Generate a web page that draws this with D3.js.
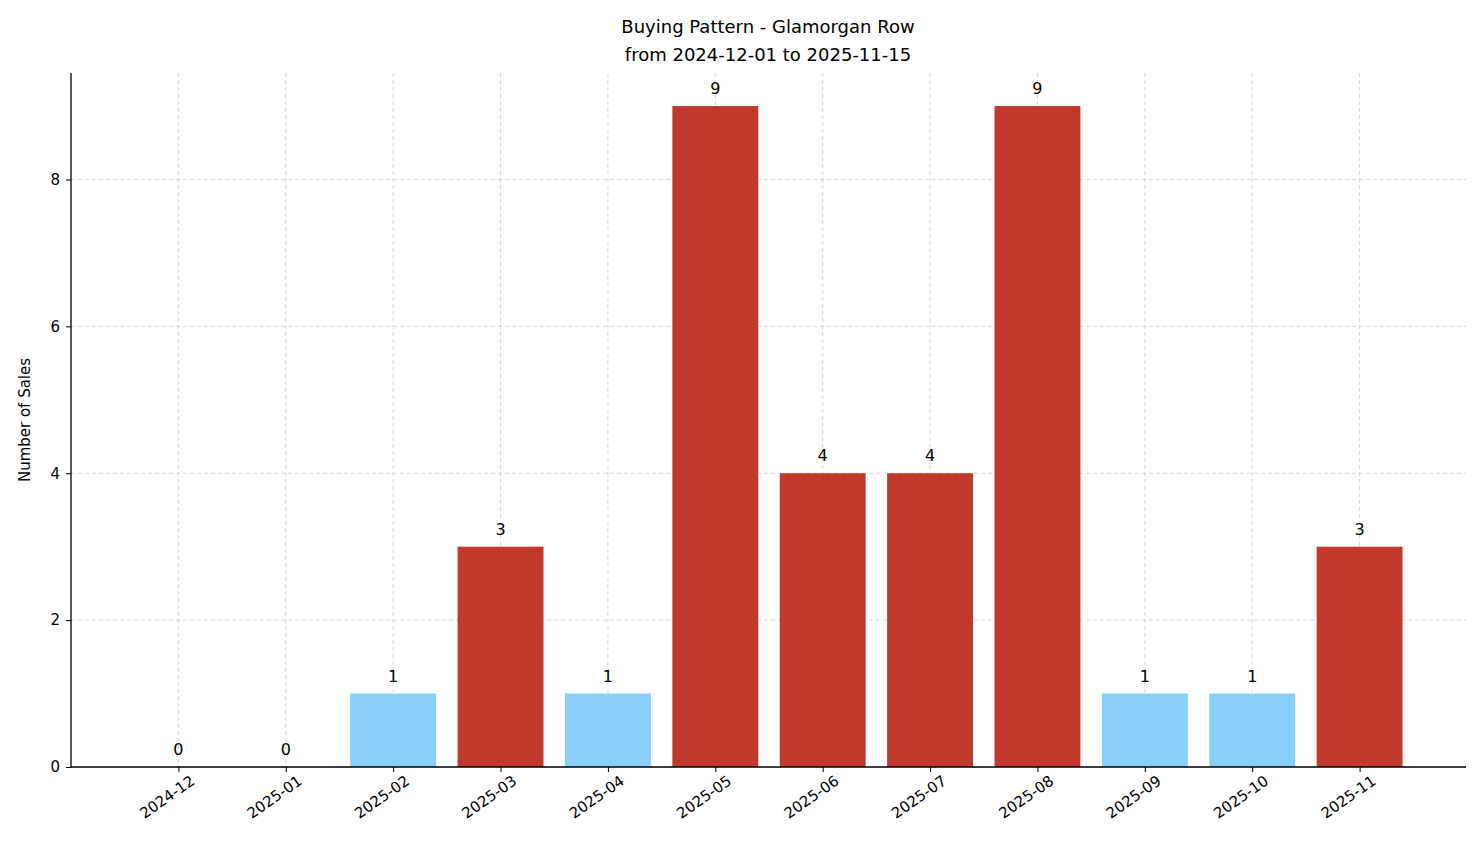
<!DOCTYPE html>
<html><head><meta charset="utf-8">
<script src="https://cdn.jsdelivr.net/npm/d3@7"></script>
<style>body{margin:0;background:#fff}text{font-family:"DejaVu Sans",sans-serif}</style>
</head><body><svg id="c" width="1481" height="863"></svg>
<script>
const categories=["2024-12","2025-01","2025-02","2025-03","2025-04","2025-05","2025-06","2025-07","2025-08","2025-09","2025-10","2025-11"];
const sales=[0,0,1,3,1,9,4,4,9,1,1,3];
const yTicks=[0,2,4,6,8];
const colorHigh="#c0392b", colorLow="#87cefa";

const svg=d3.select("#c");
const L=71,R=1466,T=73,B=767;
const x=d3.scaleLinear().domain([-1,12]).range([L,R+1]);
const y=d3.scaleLinear().domain([0,9.45]).range([B,T]);
const bw=x(0.8)-x(0);

// grid
svg.append("g").selectAll("line").data(categories.map((d,i)=>i)).join("line")
 .attr("x1",d=>x(d)).attr("x2",d=>x(d)).attr("y1",T).attr("y2",B)
 .attr("stroke","#ccc").attr("stroke-width",0.8).attr("stroke-dasharray","4,3");
svg.append("g").selectAll("line").data(yTicks).join("line")
 .attr("x1",L).attr("x2",R).attr("y1",d=>y(d)).attr("y2",d=>y(d))
 .attr("stroke","#ccc").attr("stroke-width",0.8).attr("stroke-dasharray","4,3");

// bars
svg.append("g").selectAll("rect").data(sales).join("rect")
 .attr("x",(d,i)=>x(i)-bw/2).attr("width",bw)
 .attr("y",d=>y(d)).attr("height",d=>B-y(d))
 .attr("fill",d=>d>1?colorHigh:colorLow);
svg.append("g").selectAll("text").data(sales).join("text")
 .attr("x",(d,i)=>x(i)).attr("y",d=>y(d)-12).attr("text-anchor","middle")
 .attr("font-size",16).text(d=>d);

// axes
const ya=svg.append("g").attr("transform",`translate(${L},0)`)
 .call(d3.axisLeft(y).tickValues(yTicks).tickSize(5).tickPadding(6));
ya.selectAll("text").attr("font-size",15).attr("fill","#000");
ya.select(".domain").attr("d",`M0,${B}V${T}`);
const xa=svg.append("g").attr("transform",`translate(0,${B})`)
 .call(d3.axisBottom(x).tickValues(categories.map((d,i)=>i)).tickFormat(i=>categories[i]).tickSize(5));
xa.select(".domain").attr("d",`M${L},0H${R}`);
xa.selectAll("text").attr("font-size",15).attr("fill","#000")
 .attr("text-anchor","end").attr("dx","0.3em").attr("dy","1.0em")
 .attr("transform","rotate(-35)");
svg.selectAll(".domain").attr("stroke","#000").attr("stroke-width",1.3);

// labels
svg.append("text").attr("x",768).attr("y",33).attr("text-anchor","middle").attr("font-size",18).text("Buying Pattern - Glamorgan Row");
svg.append("text").attr("x",768).attr("y",61).attr("text-anchor","middle").attr("font-size",18).text("from 2024-12-01 to 2025-11-15");
svg.append("text").attr("transform",`translate(30,${(T+B)/2}) rotate(-90)`).attr("text-anchor","middle").attr("font-size",15).text("Number of Sales");
</script></body></html>
